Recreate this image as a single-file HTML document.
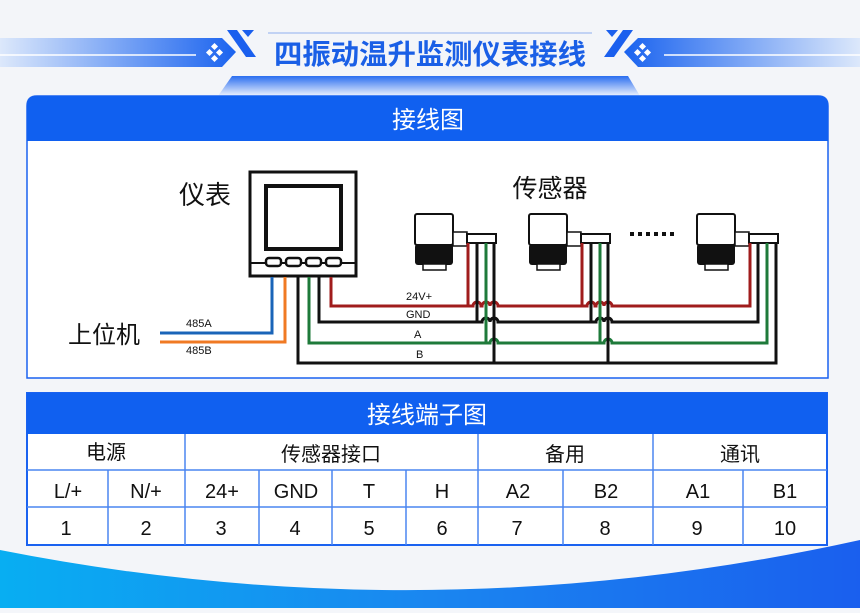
<!DOCTYPE html>
<html><head><meta charset="utf-8"><style>
html,body{margin:0;padding:0;background:#f4f6fa;}
body{width:860px;height:608px;overflow:hidden;font-family:"Liberation Sans","Noto Sans CJK SC",sans-serif;}
svg text{font-family:"Liberation Sans","Noto Sans CJK SC",sans-serif;}
</style></head><body>
<svg width="860" height="608" viewBox="0 0 860 608" xmlns="http://www.w3.org/2000/svg">
<defs>
<linearGradient id="bgl" x1="0" x2="1"><stop offset="0" stop-color="#dce8fb"/><stop offset="1" stop-color="#1a63ef"/></linearGradient>
<linearGradient id="bgr" x1="1" x2="0"><stop offset="0" stop-color="#dce8fb"/><stop offset="1" stop-color="#1a63ef"/></linearGradient>
<linearGradient id="trap" x1="0" y1="0" x2="0" y2="1"><stop offset="0" stop-color="#2a6ef0"/><stop offset="1" stop-color="#eef3fd"/></linearGradient>
<linearGradient id="wave" x1="0" x2="1"><stop offset="0" stop-color="#08aef2"/><stop offset="0.5" stop-color="#1a86f0"/><stop offset="1" stop-color="#1a5fee"/></linearGradient>
</defs>
<rect width="860" height="608" fill="#f3f5f9"/>
<path d="M0 550 Q430 635 860 540 V608 H0 Z" fill="url(#wave)"/>
<path d="M0 38 H222 L236 52 L222 67 H0 Z" fill="url(#bgl)"/>
<path d="M860 38 H638 L624 52 L638 67 H860 Z" fill="url(#bgr)"/>
<line x1="0" y1="55" x2="196" y2="55" stroke="#fff" stroke-width="1.5"/>
<line x1="664" y1="55" x2="860" y2="55" stroke="#fff" stroke-width="1.5"/>
<g fill="#fff">
<rect x="212" y="44" width="5" height="5" transform="rotate(45 214.5 46.5)"/>
<rect x="207" y="50" width="5" height="5" transform="rotate(45 209.5 52.5)"/>
<rect x="217" y="50" width="5" height="5" transform="rotate(45 219.5 52.5)"/>
<rect x="212" y="56" width="5" height="5" transform="rotate(45 214.5 58.5)"/>
<rect x="640" y="44" width="5" height="5" transform="rotate(45 642.5 46.5)"/>
<rect x="645" y="50" width="5" height="5" transform="rotate(45 647.5 52.5)"/>
<rect x="635" y="50" width="5" height="5" transform="rotate(45 637.5 52.5)"/>
<rect x="640" y="56" width="5" height="5" transform="rotate(45 642.5 58.5)"/>
</g>
<path d="M227 30 H237 L256 57 H246 Z" fill="#1a5fee"/>
<path d="M242 30 H254 L248 37 Z" fill="#1a5fee"/>
<path d="M633 30 H623 L604 57 H614 Z" fill="#1a5fee"/>
<path d="M618 30 H606 L612 37 Z" fill="#1a5fee"/>
<line x1="268" y1="33" x2="592" y2="33" stroke="#8fb0ee" stroke-width="1"/>
<path d="M232 76 H628 L640 96 H218 Z" fill="url(#trap)"/>
<text x="430" y="64" text-anchor="middle" font-size="28" font-weight="bold" fill="#1a5fe6" textLength="312" lengthAdjust="spacingAndGlyphs">四振动温升监测仪表接线</text>

<path d="M27 106 Q27 96 37 96 H818 Q828 96 828 106 V378 H27 Z" fill="#fff" stroke="#1a62f0" stroke-width="1.5"/>
<path d="M27 106 Q27 96 37 96 H818 Q828 96 828 106 V141 H27 Z" fill="#1060f0"/>
<text x="428" y="128" text-anchor="middle" font-size="24" fill="#fff">接线图</text>

<text x="205" y="204" text-anchor="middle" font-size="26" fill="#111">仪表</text>
<text x="550" y="197" text-anchor="middle" font-size="25" fill="#111">传感器</text>
<text x="104" y="343" text-anchor="middle" font-size="24" fill="#111">上位机</text>
<g font-size="11" fill="#111">
<text x="186" y="327">485A</text><text x="186" y="354">485B</text>
<text x="406" y="300">24V+</text><text x="406" y="318">GND</text>
<text x="414" y="338">A</text><text x="416" y="358">B</text>
</g>
<g fill="#111"><rect x="630" y="232" width="4" height="4"/><rect x="638" y="232" width="4" height="4"/><rect x="646" y="232" width="4" height="4"/><rect x="654" y="232" width="4" height="4"/><rect x="662" y="232" width="4" height="4"/><rect x="670" y="232" width="4" height="4"/></g>

<rect x="250" y="172" width="106" height="104" fill="#fff" stroke="#111" stroke-width="3"/>
<rect x="266" y="186" width="75" height="63" fill="#fff" stroke="#111" stroke-width="4"/>
<line x1="250" y1="263" x2="356" y2="263" stroke="#111" stroke-width="2"/>
<g fill="#fff" stroke="#111" stroke-width="2.5">
<rect x="266" y="258" width="15" height="8" rx="3"/><rect x="286" y="258" width="15" height="8" rx="3"/>
<rect x="306" y="258" width="15" height="8" rx="3"/><rect x="326" y="258" width="15" height="8" rx="3"/>
</g>

<g id="s">
<rect x="415" y="214" width="38" height="31" rx="2" fill="#fff" stroke="#111" stroke-width="2"/>
<rect x="415" y="244" width="38" height="21" rx="3" fill="#111"/>
<rect x="423" y="264" width="23" height="6" fill="#fff" stroke="#111" stroke-width="1.5"/>
<rect x="453" y="232" width="14" height="14" fill="#fff" stroke="#111" stroke-width="1.5"/>
<rect x="467" y="234" width="29" height="9" fill="#fff" stroke="#111" stroke-width="2"/>
</g>
<use href="#s" x="114"/>
<use href="#s" x="282"/>

<g fill="none" stroke-width="3">
<path d="M272 277 V333 H160" stroke="#1a64b8"/>
<path d="M285 277 V342 H160" stroke="#f07a24"/>
<path d="M331 277 V306 H473 a4 4 0 0 1 8 0 H482 a4 4 0 0 1 8 0 H490 a4 4 0 0 1 8 0 H587 a4 4 0 0 1 8 0 H596 a4 4 0 0 1 8 0 H604 a4 4 0 0 1 8 0 H750 V243" stroke="#a01c1c"/>
<path d="M319 277 V322 H482 a4 4 0 0 1 8 0 H490 a4 4 0 0 1 8 0 H596 a4 4 0 0 1 8 0 H604 a4 4 0 0 1 8 0 H758 V243" stroke="#111"/>
<path d="M309 277 V343 H490 a4 4 0 0 1 8 0 H604 a4 4 0 0 1 8 0 H767 V243" stroke="#1e7a3a"/>
<path d="M298 277 V363 H776 V243" stroke="#111"/>
<path d="M468 243 V306 M582 243 V306" stroke="#a01c1c"/>
<path d="M477 243 V322 M591 243 V322" stroke="#111"/>
<path d="M486 243 V343 M600 243 V343" stroke="#1e7a3a"/>
<path d="M494 243 V363 M608 243 V363" stroke="#111"/>
</g>

<rect x="27" y="393" width="800" height="152" fill="#fff" stroke="#1a62f0" stroke-width="2"/>
<rect x="27" y="393" width="800" height="41" fill="#1060f0"/>
<text x="427" y="423" text-anchor="middle" font-size="24" fill="#fff">接线端子图</text>
<g stroke="#4a85f0" stroke-width="1.5">
<line x1="27" y1="470" x2="827" y2="470"/><line x1="27" y1="507" x2="827" y2="507"/>
<line x1="185" y1="434" x2="185" y2="545"/><line x1="478" y1="434" x2="478" y2="545"/><line x1="653" y1="434" x2="653" y2="545"/>
<line x1="108" y1="470" x2="108" y2="545"/><line x1="259" y1="470" x2="259" y2="545"/><line x1="332" y1="470" x2="332" y2="545"/>
<line x1="406" y1="470" x2="406" y2="545"/><line x1="563" y1="470" x2="563" y2="545"/><line x1="743" y1="470" x2="743" y2="545"/>
</g>
<g font-size="20" fill="#111" text-anchor="middle">
<text x="106" y="459">电源</text><text x="331" y="461">传感器接口</text><text x="565" y="461">备用</text><text x="740" y="461">通讯</text>
<text x="68" y="498">L/+</text><text x="146" y="498">N/+</text><text x="222" y="498">24+</text><text x="296" y="498">GND</text><text x="369" y="498">T</text><text x="442" y="498">H</text><text x="518" y="498">A2</text><text x="606" y="498">B2</text><text x="698" y="498">A1</text><text x="785" y="498">B1</text>
<text x="66" y="535">1</text><text x="146" y="535">2</text><text x="221" y="535">3</text><text x="295" y="535">4</text><text x="369" y="535">5</text><text x="442" y="535">6</text><text x="517" y="535">7</text><text x="605" y="535">8</text><text x="697" y="535">9</text><text x="785" y="535">10</text>
</g>
</svg>
</body></html>
